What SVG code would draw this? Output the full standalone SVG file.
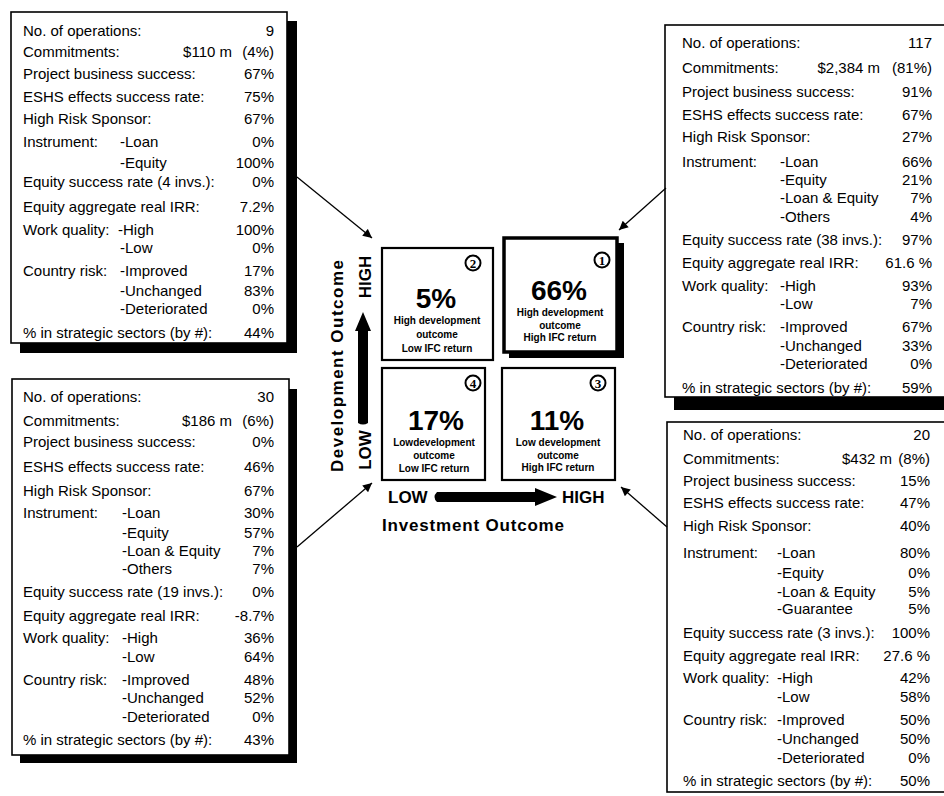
<svg xmlns="http://www.w3.org/2000/svg" width="944" height="796" viewBox="0 0 944 796">
  <defs>
    <style>
      .panel { fill: #fff; stroke: #000; stroke-width: 1.6; }
      .shadow { fill: #000; }
      .t { font-family: "Liberation Sans", Arial, sans-serif; font-size: 15px; fill: #000; }
      .v { text-anchor: end; }
      .quad { fill: #fff; stroke: #000; stroke-width: 2.2; }
      .quad-main { fill: #fff; stroke: #000; stroke-width: 3.5; }
      .pct { font-family: "Liberation Sans", Arial, sans-serif; font-size: 28px; font-weight: bold; text-anchor: middle; fill: #000; }
      .cap { font-family: "Liberation Sans", Arial, sans-serif; font-size: 10px; font-weight: bold; text-anchor: middle; fill: #000; }
      .num-ring { fill: #fff; stroke: #000; stroke-width: 2; }
      .num { font-family: "Liberation Serif", "Times New Roman", serif; font-size: 13px; font-weight: bold; text-anchor: middle; fill: #000; }
      .axis { font-family: "Liberation Sans", Arial, sans-serif; font-size: 17px; font-weight: bold; fill: #000; }
      .link { fill: none; stroke: #000; stroke-width: 1.3; marker-end: url(#tip); }
    </style>
    <marker id="tip" viewBox="0 0 10 10" refX="10" refY="5" markerWidth="11" markerHeight="9" markerUnits="userSpaceOnUse" orient="auto">
      <path d="M0,0 L10,5 L0,10 z" fill="#000"/>
    </marker>
  </defs>

  <rect width="944" height="796" fill="#fff"/>

  <!-- Quadrant 2 summary panel (top left) -->
  <g id="panel-q2">
    <rect class="shadow" x="20" y="21" width="277" height="332"/>
    <rect class="panel" x="11" y="12" width="276" height="331"/>
    <text class="t" x="23" y="36">No. of operations:</text><text class="t v" x="274" y="36">9</text>
    <text class="t" x="23" y="57">Commitments:</text><text class="t v" x="232" y="57">$110 m</text><text class="t v" x="274" y="57">(4%)</text>
    <text class="t" x="23" y="79">Project business success:</text><text class="t v" x="274" y="79">67%</text>
    <text class="t" x="23" y="102">ESHS effects success rate:</text><text class="t v" x="274" y="102">75%</text>
    <text class="t" x="23" y="124">High Risk Sponsor:</text><text class="t v" x="274" y="124">67%</text>
    <text class="t" x="23" y="147">Instrument:</text><text class="t" x="120" y="147">-Loan</text><text class="t v" x="274" y="147">0%</text>
    <text class="t" x="120" y="168">-Equity</text><text class="t v" x="274" y="168">100%</text>
    <text class="t" x="23" y="187">Equity success rate (4 invs.):</text><text class="t v" x="274" y="187">0%</text>
    <text class="t" x="23" y="212">Equity aggregate real IRR:</text><text class="t v" x="274" y="212">7.2%</text>
    <text class="t" x="23" y="235">Work quality:</text><text class="t" x="118" y="235">-High</text><text class="t v" x="274" y="235">100%</text>
    <text class="t" x="120" y="253">-Low</text><text class="t v" x="274" y="253">0%</text>
    <text class="t" x="23" y="276">Country risk:</text><text class="t" x="120" y="276">-Improved</text><text class="t v" x="274" y="276">17%</text>
    <text class="t" x="120" y="296">-Unchanged</text><text class="t v" x="274" y="296">83%</text>
    <text class="t" x="120" y="314">-Deteriorated</text><text class="t v" x="274" y="314">0%</text>
    <text class="t" x="23" y="338">% in strategic sectors (by #):</text><text class="t v" x="274" y="338">44%</text>
  </g>

  <!-- Quadrant 1 summary panel (top right) -->
  <g id="panel-q1">
    <rect class="shadow" x="674" y="35" width="290" height="375"/>
    <rect class="panel" x="665" y="25" width="290" height="372"/>
    <text class="t" x="682" y="48">No. of operations:</text><text class="t v" x="932" y="48">117</text>
    <text class="t" x="682" y="73">Commitments:</text><text class="t v" x="880" y="73">$2,384 m</text><text class="t v" x="932" y="73">(81%)</text>
    <text class="t" x="682" y="97">Project business success:</text><text class="t v" x="932" y="97">91%</text>
    <text class="t" x="682" y="120">ESHS effects success rate:</text><text class="t v" x="932" y="120">67%</text>
    <text class="t" x="682" y="142">High Risk Sponsor:</text><text class="t v" x="932" y="142">27%</text>
    <text class="t" x="682" y="167">Instrument:</text><text class="t" x="780" y="167">-Loan</text><text class="t v" x="932" y="167">66%</text>
    <text class="t" x="780" y="185">-Equity</text><text class="t v" x="932" y="185">21%</text>
    <text class="t" x="780" y="203">-Loan &amp; Equity</text><text class="t v" x="932" y="203">7%</text>
    <text class="t" x="780" y="222">-Others</text><text class="t v" x="932" y="222">4%</text>
    <text class="t" x="682" y="245">Equity success rate (38 invs.):</text><text class="t v" x="932" y="245">97%</text>
    <text class="t" x="682" y="268">Equity aggregate real IRR:</text><text class="t v" x="932" y="268">61.6 %</text>
    <text class="t" x="682" y="291">Work quality:</text><text class="t" x="780" y="291">-High</text><text class="t v" x="932" y="291">93%</text>
    <text class="t" x="780" y="309">-Low</text><text class="t v" x="932" y="309">7%</text>
    <text class="t" x="682" y="332">Country risk:</text><text class="t" x="780" y="332">-Improved</text><text class="t v" x="932" y="332">67%</text>
    <text class="t" x="780" y="351">-Unchanged</text><text class="t v" x="932" y="351">33%</text>
    <text class="t" x="780" y="369">-Deteriorated</text><text class="t v" x="932" y="369">0%</text>
    <text class="t" x="682" y="393">% in strategic sectors (by #):</text><text class="t v" x="932" y="393">59%</text>
  </g>

  <!-- Quadrant 4 summary panel (bottom left) -->
  <g id="panel-q4">
    <rect class="shadow" x="20" y="389" width="277" height="374"/>
    <rect class="panel" x="12" y="379" width="277" height="376"/>
    <text class="t" x="23" y="402">No. of operations:</text><text class="t v" x="274" y="402">30</text>
    <text class="t" x="23" y="426">Commitments:</text><text class="t v" x="232" y="426">$186 m</text><text class="t v" x="274" y="426">(6%)</text>
    <text class="t" x="23" y="447">Project business success:</text><text class="t v" x="274" y="447">0%</text>
    <text class="t" x="23" y="472">ESHS effects success rate:</text><text class="t v" x="274" y="472">46%</text>
    <text class="t" x="23" y="496">High Risk Sponsor:</text><text class="t v" x="274" y="496">67%</text>
    <text class="t" x="23" y="518">Instrument:</text><text class="t" x="122" y="518">-Loan</text><text class="t v" x="274" y="518">30%</text>
    <text class="t" x="122" y="538">-Equity</text><text class="t v" x="274" y="538">57%</text>
    <text class="t" x="122" y="556">-Loan &amp; Equity</text><text class="t v" x="274" y="556">7%</text>
    <text class="t" x="122" y="574">-Others</text><text class="t v" x="274" y="574">7%</text>
    <text class="t" x="23" y="597">Equity success rate (19 invs.):</text><text class="t v" x="274" y="597">0%</text>
    <text class="t" x="23" y="621">Equity aggregate real IRR:</text><text class="t v" x="274" y="621">-8.7%</text>
    <text class="t" x="23" y="643">Work quality:</text><text class="t" x="122" y="643">-High</text><text class="t v" x="274" y="643">36%</text>
    <text class="t" x="122" y="662">-Low</text><text class="t v" x="274" y="662">64%</text>
    <text class="t" x="23" y="685">Country risk:</text><text class="t" x="122" y="685">-Improved</text><text class="t v" x="274" y="685">48%</text>
    <text class="t" x="122" y="703">-Unchanged</text><text class="t v" x="274" y="703">52%</text>
    <text class="t" x="122" y="722">-Deteriorated</text><text class="t v" x="274" y="722">0%</text>
    <text class="t" x="23" y="745">% in strategic sectors (by #):</text><text class="t v" x="274" y="745">43%</text>
  </g>

  <!-- Quadrant 3 summary panel (bottom right) -->
  <g id="panel-q3">
    <rect class="panel" x="667" y="422" width="290" height="370"/>
    <text class="t" x="683" y="440">No. of operations:</text><text class="t v" x="930" y="440">20</text>
    <text class="t" x="683" y="464">Commitments:</text><text class="t v" x="892" y="464">$432 m</text><text class="t v" x="930" y="464">(8%)</text>
    <text class="t" x="683" y="486">Project business success:</text><text class="t v" x="930" y="486">15%</text>
    <text class="t" x="683" y="508">ESHS effects success rate:</text><text class="t v" x="930" y="508">47%</text>
    <text class="t" x="683" y="531">High Risk Sponsor:</text><text class="t v" x="930" y="531">40%</text>
    <text class="t" x="683" y="558">Instrument:</text><text class="t" x="777" y="558">-Loan</text><text class="t v" x="930" y="558">80%</text>
    <text class="t" x="777" y="578">-Equity</text><text class="t v" x="930" y="578">0%</text>
    <text class="t" x="777" y="597">-Loan &amp; Equity</text><text class="t v" x="930" y="597">5%</text>
    <text class="t" x="777" y="614">-Guarantee</text><text class="t v" x="930" y="614">5%</text>
    <text class="t" x="683" y="638">Equity success rate (3 invs.):</text><text class="t v" x="930" y="638">100%</text>
    <text class="t" x="683" y="661">Equity aggregate real IRR:</text><text class="t v" x="930" y="661">27.6 %</text>
    <text class="t" x="683" y="683">Work quality:</text><text class="t" x="777" y="683">-High</text><text class="t v" x="930" y="683">42%</text>
    <text class="t" x="777" y="702">-Low</text><text class="t v" x="930" y="702">58%</text>
    <text class="t" x="683" y="725">Country risk:</text><text class="t" x="777" y="725">-Improved</text><text class="t v" x="930" y="725">50%</text>
    <text class="t" x="777" y="744">-Unchanged</text><text class="t v" x="930" y="744">50%</text>
    <text class="t" x="777" y="763">-Deteriorated</text><text class="t v" x="930" y="763">0%</text>
    <text class="t" x="683" y="786">% in strategic sectors (by #):</text><text class="t v" x="930" y="786">50%</text>
  </g>

  <!-- Matrix cells -->
  <g id="cell-2">
    <rect class="quad" x="382" y="248" width="111" height="112"/>
    <circle class="num-ring" cx="473" cy="263" r="7.5"/><text class="num" x="473" y="267.5">2</text>
    <text class="pct" x="436" y="308">5%</text>
    <text class="cap" x="437" y="324">High development</text>
    <text class="cap" x="437" y="338">outcome</text>
    <text class="cap" x="437" y="352">Low IFC return</text>
  </g>
  <g id="cell-1">
    <rect class="shadow" x="509" y="243" width="115" height="115"/>
    <rect class="quad-main" x="504" y="238" width="113" height="114"/>
    <circle class="num-ring" cx="602" cy="260" r="7.5"/><text class="num" x="602" y="264.5">1</text>
    <text class="pct" x="559" y="300">66%</text>
    <text class="cap" x="560" y="316">High development</text>
    <text class="cap" x="560" y="329">outcome</text>
    <text class="cap" x="560" y="341">High IFC return</text>
  </g>
  <g id="cell-4">
    <rect class="quad" x="382" y="368" width="103" height="112"/>
    <circle class="num-ring" cx="473" cy="383" r="7.5"/><text class="num" x="473" y="387.5">4</text>
    <text class="pct" x="436" y="430">17%</text>
    <text class="cap" x="434" y="446">Lowdevelopment</text>
    <text class="cap" x="434" y="459">outcome</text>
    <text class="cap" x="434" y="472">Low IFC return</text>
  </g>
  <g id="cell-3">
    <rect class="quad" x="502" y="368" width="113" height="112"/>
    <circle class="num-ring" cx="598" cy="383" r="7.5"/><text class="num" x="598" y="387.5">3</text>
    <text class="pct" x="557" y="430">11%</text>
    <text class="cap" x="558" y="446">Low development</text>
    <text class="cap" x="558" y="459">outcome</text>
    <text class="cap" x="558" y="471">High IFC return</text>
  </g>

  <!-- Axes -->
  <g id="axes">
    <path d="M358,423 Q363,426 368,423 L368,331 L371,331 L363,312 L355,331 L358,331 Z" fill="#000"/>
    <path d="M437,492 L535,492 L535,488 L557,497 L535,506 L535,502 L437,502 Q432,497 437,492 Z" fill="#000"/>
    <text class="axis" transform="translate(371,277) rotate(-90)" text-anchor="middle">HIGH</text>
    <text class="axis" transform="translate(371,450) rotate(-90)" text-anchor="middle">LOW</text>
    <text class="axis" transform="translate(343,366) rotate(-90)" text-anchor="middle" textLength="212" lengthAdjust="spacing">Development Outcome</text>
    <text class="axis" x="388" y="503">LOW</text>
    <text class="axis" x="562" y="503">HIGH</text>
    <text class="axis" x="473" y="531" text-anchor="middle" textLength="182" lengthAdjust="spacing">Investment Outcome</text>
  </g>

  <!-- Connectors from panels to matrix cells -->
  <g id="connectors">
    <line class="link" x1="297" y1="177" x2="372" y2="238"/>
    <line class="link" x1="666" y1="188" x2="619" y2="230"/>
    <line class="link" x1="297" y1="547" x2="372" y2="483"/>
    <line class="link" x1="667" y1="527" x2="621" y2="487"/>
  </g>
</svg>
